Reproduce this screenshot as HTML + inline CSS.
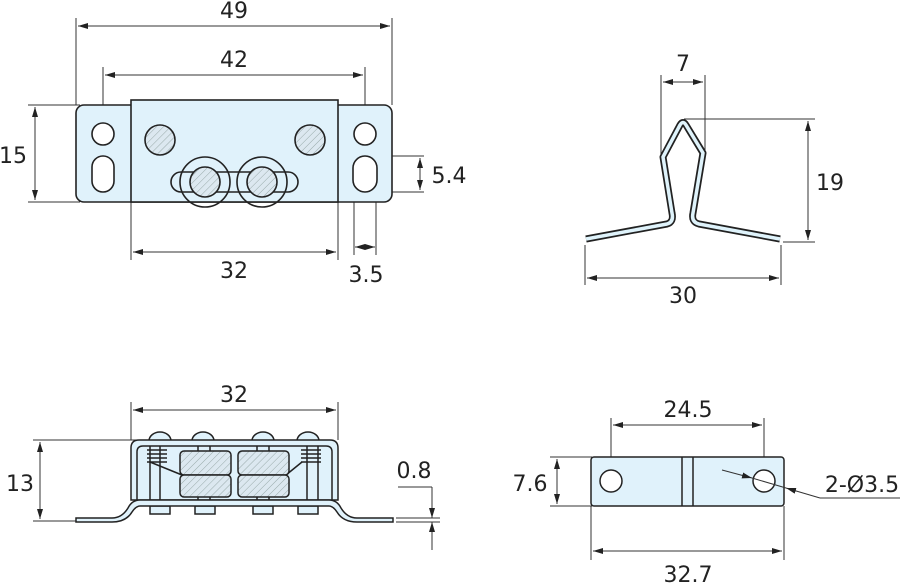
<!DOCTYPE html>
<html><head><meta charset="utf-8"><style>
html,body{margin:0;padding:0;background:#fff}
svg{display:block}
text{font-family:"DejaVu Sans","Liberation Sans",sans-serif;font-size:22px;fill:#222}
</style></head><body>
<svg width="900" height="584" viewBox="0 0 900 584" xmlns="http://www.w3.org/2000/svg">
<defs>
<pattern id="h" width="5" height="5" patternUnits="userSpaceOnUse" patternTransform="rotate(45)">
<rect width="5" height="5" fill="#dce8f0"/><line x1="0" y1="0" x2="0" y2="5" stroke="#9aa" stroke-width="1"/></pattern>
<marker id="a" viewBox="0 0 10 6" refX="10" refY="3" markerWidth="10" markerHeight="6" orient="auto-start-reverse" markerUnits="userSpaceOnUse"><path d="M0,0L10,3L0,6z" fill="#222"/></marker>
</defs>
<g stroke="#333" stroke-width="1" fill="none">
<line x1="76" y1="18" x2="76" y2="105"/><line x1="392" y1="18" x2="392" y2="105"/>
<line x1="78" y1="26" x2="390" y2="26" marker-start="url(#a)" marker-end="url(#a)"/>
<line x1="103" y1="67" x2="103" y2="122"/><line x1="365" y1="67" x2="365" y2="122"/>
<line x1="105" y1="75" x2="363" y2="75" marker-start="url(#a)" marker-end="url(#a)"/>
<line x1="28" y1="105" x2="80" y2="105"/><line x1="28" y1="202" x2="80" y2="202"/>
<line x1="35" y1="107" x2="35" y2="200" marker-start="url(#a)" marker-end="url(#a)"/>
<line x1="131" y1="202" x2="131" y2="260"/><line x1="338" y1="202" x2="338" y2="260"/>
<line x1="133" y1="252" x2="336" y2="252" marker-start="url(#a)" marker-end="url(#a)"/>
<line x1="354" y1="180" x2="354" y2="255"/><line x1="376" y1="180" x2="376" y2="255"/>
<line x1="355" y1="247" x2="375" y2="247" marker-start="url(#a)" marker-end="url(#a)"/>
<line x1="365" y1="156" x2="424" y2="156"/><line x1="365" y1="192" x2="424" y2="192"/>
<line x1="420" y1="158" x2="420" y2="190" marker-start="url(#a)" marker-end="url(#a)"/>
</g>
<g stroke="#222" stroke-width="1.6">
<rect x="76" y="105" width="316" height="97" rx="8" fill="#e0f2fb"/>
<rect x="131" y="100" width="207" height="102" fill="#e0f2fb"/>
<g fill="#fff">
<circle cx="103" cy="134" r="11"/><circle cx="365" cy="134" r="11"/>
<rect x="92" y="156" width="22" height="36" rx="11"/><rect x="353" y="156" width="24" height="36" rx="12"/>
</g>
<circle cx="160" cy="140" r="15" fill="url(#h)"/><circle cx="310" cy="140" r="15" fill="url(#h)"/>
<circle cx="205" cy="182" r="25" fill="none"/><circle cx="262" cy="182" r="25" fill="none"/>
<rect x="171" y="172" width="127" height="20" rx="10" fill="none"/>
<circle cx="205" cy="182" r="15" fill="url(#h)"/><circle cx="262" cy="182" r="15" fill="url(#h)"/>
</g>
<text x="234" y="18" text-anchor="middle">49</text>
<text x="234" y="67" text-anchor="middle">42</text>
<text x="13" y="163" text-anchor="middle">15</text>
<text x="234" y="278" text-anchor="middle">32</text>
<text x="366" y="282" text-anchor="middle">3.5</text>
<text x="449" y="183" text-anchor="middle">5.4</text>

<g stroke="#333" stroke-width="1" fill="none">
<line x1="661" y1="75" x2="661" y2="155"/><line x1="705" y1="75" x2="705" y2="150"/>
<line x1="663" y1="82" x2="703" y2="82" marker-start="url(#a)" marker-end="url(#a)"/>
<line x1="684" y1="119" x2="815" y2="119"/><line x1="783" y1="242" x2="815" y2="242"/>
<line x1="808" y1="121" x2="808" y2="240" marker-start="url(#a)" marker-end="url(#a)"/>
<line x1="585" y1="245" x2="585" y2="285"/><line x1="781" y1="245" x2="781" y2="285"/>
<line x1="587" y1="278" x2="779" y2="278" marker-start="url(#a)" marker-end="url(#a)"/>
</g>
<path d="M586,239 L667,224 Q674,222 672,213 L663,157 L680,125 Q683,120 686,125 L703,153 L693,213 Q691,222 699,224 L780,239" fill="none" stroke="#222" stroke-width="7" stroke-linejoin="round"/>
<path d="M586,239 L667,224 Q674,222 672,213 L663,157 L680,125 Q683,120 686,125 L703,153 L693,213 Q691,222 699,224 L780,239" fill="none" stroke="#dff3fb" stroke-width="3.5" stroke-linejoin="round"/>
<text x="683" y="71" text-anchor="middle">7</text>
<text x="830" y="190" text-anchor="middle">19</text>
<text x="683" y="303" text-anchor="middle">30</text>

<g stroke="#333" stroke-width="1" fill="none">
<line x1="131" y1="402" x2="131" y2="440"/><line x1="338" y1="402" x2="338" y2="440"/>
<line x1="133" y1="410" x2="336" y2="410" marker-start="url(#a)" marker-end="url(#a)"/>
<line x1="33" y1="440" x2="140" y2="440"/><line x1="33" y1="521" x2="76" y2="521"/>
<line x1="40" y1="442" x2="40" y2="519" marker-start="url(#a)" marker-end="url(#a)"/>
<line x1="398" y1="487" x2="432" y2="487"/>
<line x1="396" y1="518" x2="440" y2="518"/><line x1="396" y1="522" x2="440" y2="522"/>
<line x1="432" y1="487" x2="432" y2="518" marker-end="url(#a)"/>
<line x1="432" y1="550" x2="432" y2="522" marker-end="url(#a)"/>
</g>
<g stroke="#222" stroke-width="1.5">
<g fill="#e0f2fb">
<path d="M149,441 a11,9 0 0 1 22,0z M192,441 a11,9 0 0 1 22,0z M252,441 a11,9 0 0 1 22,0z M297,441 a11,9 0 0 1 22,0z"/>
<rect x="150" y="506" width="20" height="8"/><rect x="195" y="506" width="20" height="8"/><rect x="253" y="506" width="20" height="8"/><rect x="298" y="506" width="20" height="8"/>
<path d="M131,500 L131,448 Q131,440 139,440 L330,440 Q338,440 338,448 L338,500 Z"/>
<path d="M76,518 L112,518 Q122,518 128,508 Q132,500 140,500 L329,500 Q337,500 341,508 Q347,518 357,518 L393,518 L393,522 L357,522 Q343,522 337,512 Q333,506 329,506 L140,506 Q136,506 132,512 Q126,522 112,522 L76,522 Z"/>
</g>
<path d="M137,500 L137,452 Q137,446 143,446 L326,446 Q332,446 332,452 L332,500" fill="none"/>
<g fill="none">
<line x1="150" y1="446" x2="150" y2="500"/><line x1="160" y1="446" x2="160" y2="500"/>
<line x1="198" y1="446" x2="198" y2="500"/><line x1="210" y1="446" x2="210" y2="500"/>
<line x1="257" y1="446" x2="257" y2="500"/><line x1="269" y1="446" x2="269" y2="500"/>
<line x1="307" y1="446" x2="307" y2="500"/><line x1="318" y1="446" x2="318" y2="500"/>
<path d="M147,450h20M147,454h20M147,458h20M147,462h20M301,450h20M301,454h20M301,458h20M301,462h20"/>
<path d="M150,462 L182,475 M302,462 L286,475"/>
</g>
<g fill="url(#h)">
<rect x="180" y="451" width="51" height="24" rx="4"/><rect x="238" y="451" width="51" height="24" rx="4"/>
<rect x="180" y="475" width="51" height="22" rx="4"/><rect x="238" y="475" width="51" height="22" rx="4"/>
</g>
</g>
<text x="234" y="402" text-anchor="middle">32</text>
<text x="20" y="491" text-anchor="middle">13</text>
<text x="414" y="478" text-anchor="middle">0.8</text>

<g stroke="#333" stroke-width="1" fill="none">
<line x1="611" y1="418" x2="611" y2="481"/><line x1="764" y1="418" x2="764" y2="481"/>
<line x1="613" y1="425" x2="762" y2="425" marker-start="url(#a)" marker-end="url(#a)"/>
<line x1="550" y1="457" x2="592" y2="457"/><line x1="550" y1="506" x2="592" y2="506"/>
<line x1="557" y1="459" x2="557" y2="504" marker-start="url(#a)" marker-end="url(#a)"/>
<line x1="591" y1="506" x2="591" y2="560"/><line x1="784" y1="506" x2="784" y2="560"/>
<line x1="593" y1="551" x2="782" y2="551" marker-start="url(#a)" marker-end="url(#a)"/>
</g>
<g stroke="#222" stroke-width="1.5">
<rect x="591" y="457" width="193" height="49" rx="3" fill="#e0f2fb"/>
<line x1="682" y1="457" x2="682" y2="506"/><line x1="693" y1="457" x2="693" y2="506"/>
<circle cx="611" cy="481" r="11" fill="#fff"/><circle cx="764" cy="481" r="11" fill="#fff"/>
</g>
<g stroke="#333" stroke-width="1" fill="none">
<line x1="722" y1="470" x2="752" y2="478" marker-end="url(#a)"/>
<line x1="820" y1="498" x2="786" y2="488" marker-end="url(#a)"/>
<line x1="752" y1="478" x2="786" y2="488"/>
<line x1="820" y1="498" x2="900" y2="498"/>
</g>
<text x="688" y="417" text-anchor="middle">24.5</text>
<text x="530" y="491" text-anchor="middle">7.6</text>
<text x="862" y="492" text-anchor="middle">2-Ø3.5</text>
<text x="688" y="582" text-anchor="middle">32.7</text>
</svg>
</body></html>
